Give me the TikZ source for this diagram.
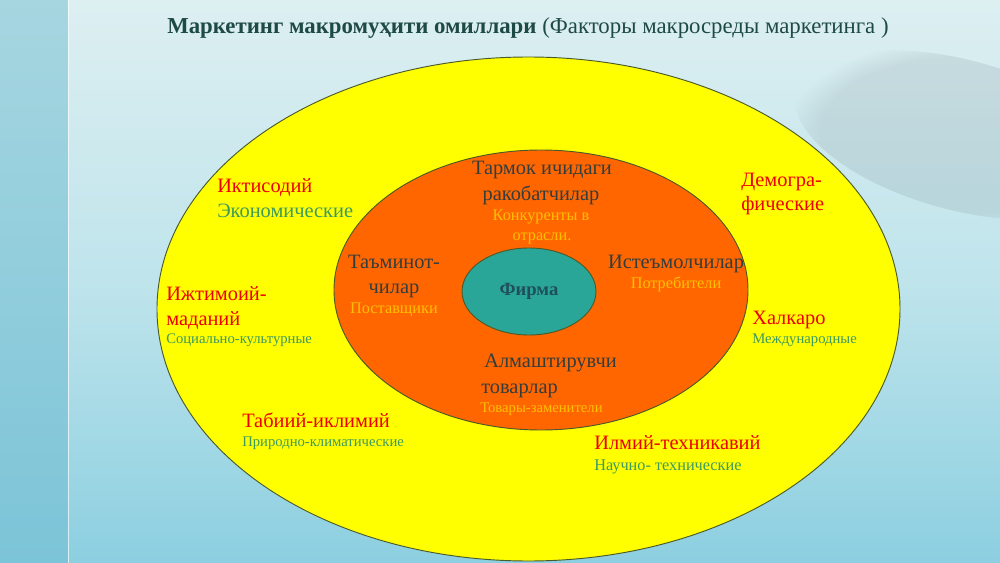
\documentclass[tikz,border=0pt]{standalone}
\usepackage{fontspec}
\setmainfont{Liberation Serif}
\usetikzlibrary{shapes.geometric,fadings}
\definecolor{bgtop}{HTML}{DDEFF1}
\definecolor{bgmid}{HTML}{BFE4EC}
\definecolor{bgbot}{HTML}{8CCFE0}
\definecolor{striptop}{HTML}{A6D6E0}
\definecolor{stripbot}{HTML}{7CC4D8}
\definecolor{ringline}{HTML}{4A5A28}
\definecolor{yel}{HTML}{FFFF00}
\definecolor{org}{HTML}{FF6600}
\definecolor{tea}{HTML}{2AA698}
\definecolor{redT}{HTML}{EE0000}
\definecolor{greenT}{HTML}{3C9A5F}
\definecolor{darkT}{HTML}{333D3D}
\definecolor{goldT}{HTML}{FFC000}
\definecolor{firmT}{HTML}{1F4E5C}
\definecolor{titleT}{HTML}{1E4A46}
\begin{document}
\begin{tikzpicture}[x=0.75pt,y=-0.75pt,
  ring/.style={ellipse, draw=ringline, line width=0.7pt, inner sep=0pt, outer sep=0pt},
  lab/.style={anchor=base west, inner sep=0pt},
  clab/.style={anchor=base, inner sep=0pt},
  big/.style={font=\fontsize{15.3}{18}\selectfont},
  mid/.style={font=\fontsize{12.2}{14}\selectfont},
  sml/.style={font=\fontsize{11}{13}\selectfont},
  red/.style={text=redT}, grn/.style={text=greenT},
  drk/.style={text=darkT}, gld/.style={text=goldT}]
\useasboundingbox (0,0) rectangle (1000,563);
% background
\shade[top color=bgtop, bottom color=bgbot, middle color=bgmid] (0,0) rectangle (1000,563);
\fill[gray!70!cyan!60!black, path fading=circle with fuzzy edge 20 percent, opacity=0.14, rotate around={-15:(960,135)}] (960,135) ellipse (170 and 75);
\shade[top color=striptop, bottom color=stripbot] (0,0) rectangle (68,563);
\draw[white, opacity=0.7, line width=0.75pt] (68,0) -- (68,563);
% title
\node[anchor=base west, inner sep=0pt, text=titleT, font=\fontsize{17.1}{20}\selectfont] (title) at (167,34)
  {\textbf{Маркетинг макромуҳити омиллари} (Факторы макросреды маркетинга )};
% rings
\node[ring, fill=yel, minimum width=557.25pt, minimum height=378pt] (outer) at (528.5,309) {};
\node[ring, fill=org, minimum width=310.5pt, minimum height=210pt] (mid) at (541,290) {};
\node[ring, fill=tea, minimum width=100.5pt, minimum height=65.25pt, text=firmT,
  font=\fontsize{14}{16}\selectfont\bfseries] (firm) at (529,291.5) {Фирма};
% outer labels
\node[lab, big, red] (ikt) at (217,193) {Иктисодий};
\node[lab, big, grn] (eko) at (217,218) {Экономические};
\node[lab, big, red] (izh1) at (166,300) {Ижтимоий-};
\node[lab, big, red] (izh2) at (166,325) {маданий};
\node[lab, sml, grn] (soc) at (166,343) {Социально-культурные};
\node[lab, big, red] (tab) at (242,427) {Табиий-иклимий};
\node[lab, sml, grn] (pri) at (242,446) {Природно-климатические};
\node[lab, big, red] (ilm) at (594,449) {Илмий-техникавий};
\node[lab, mid, grn] (nau) at (594,470) {Научно- технические};
\node[lab, big, red] (hal) at (752,324) {Халкаро};
\node[lab, sml, grn] (mezh) at (752,343) {Международные};
\node[lab, big, red] (dem1) at (741,187) {Демогра-};
\node[lab, big, red] (dem2) at (741,211) {фические};
% middle ring labels
\node[clab, big, drk] (tar1) at (542,175) {Тармок ичидаги};
\node[clab, big, drk] (tar2) at (541,200) {ракобатчилар};
\node[clab, mid, gld] (kon1) at (541,220) {Конкуренты в};
\node[clab, mid, gld] (kon2) at (542,240) {отрасли.};
\node[clab, big, drk] (tam1) at (394,268) {Таъминот-};
\node[clab, big, drk] (tam2) at (394,293) {чилар};
\node[clab, mid, gld] (pos) at (394,313) {Поставщики};
\node[clab, big, drk] (ist) at (676,268) {Истеъмолчилар};
\node[clab, mid, gld] (pot) at (676,288) {Потребители};
\node[lab, big, drk] (alm) at (484,367) {Алмаштирувчи};
\node[lab, big, drk] (tov) at (481,393) {товарлар};
\node[lab, sml, gld] (zam) at (480,412) {Товары-заменители};
\end{tikzpicture}
\end{document}
